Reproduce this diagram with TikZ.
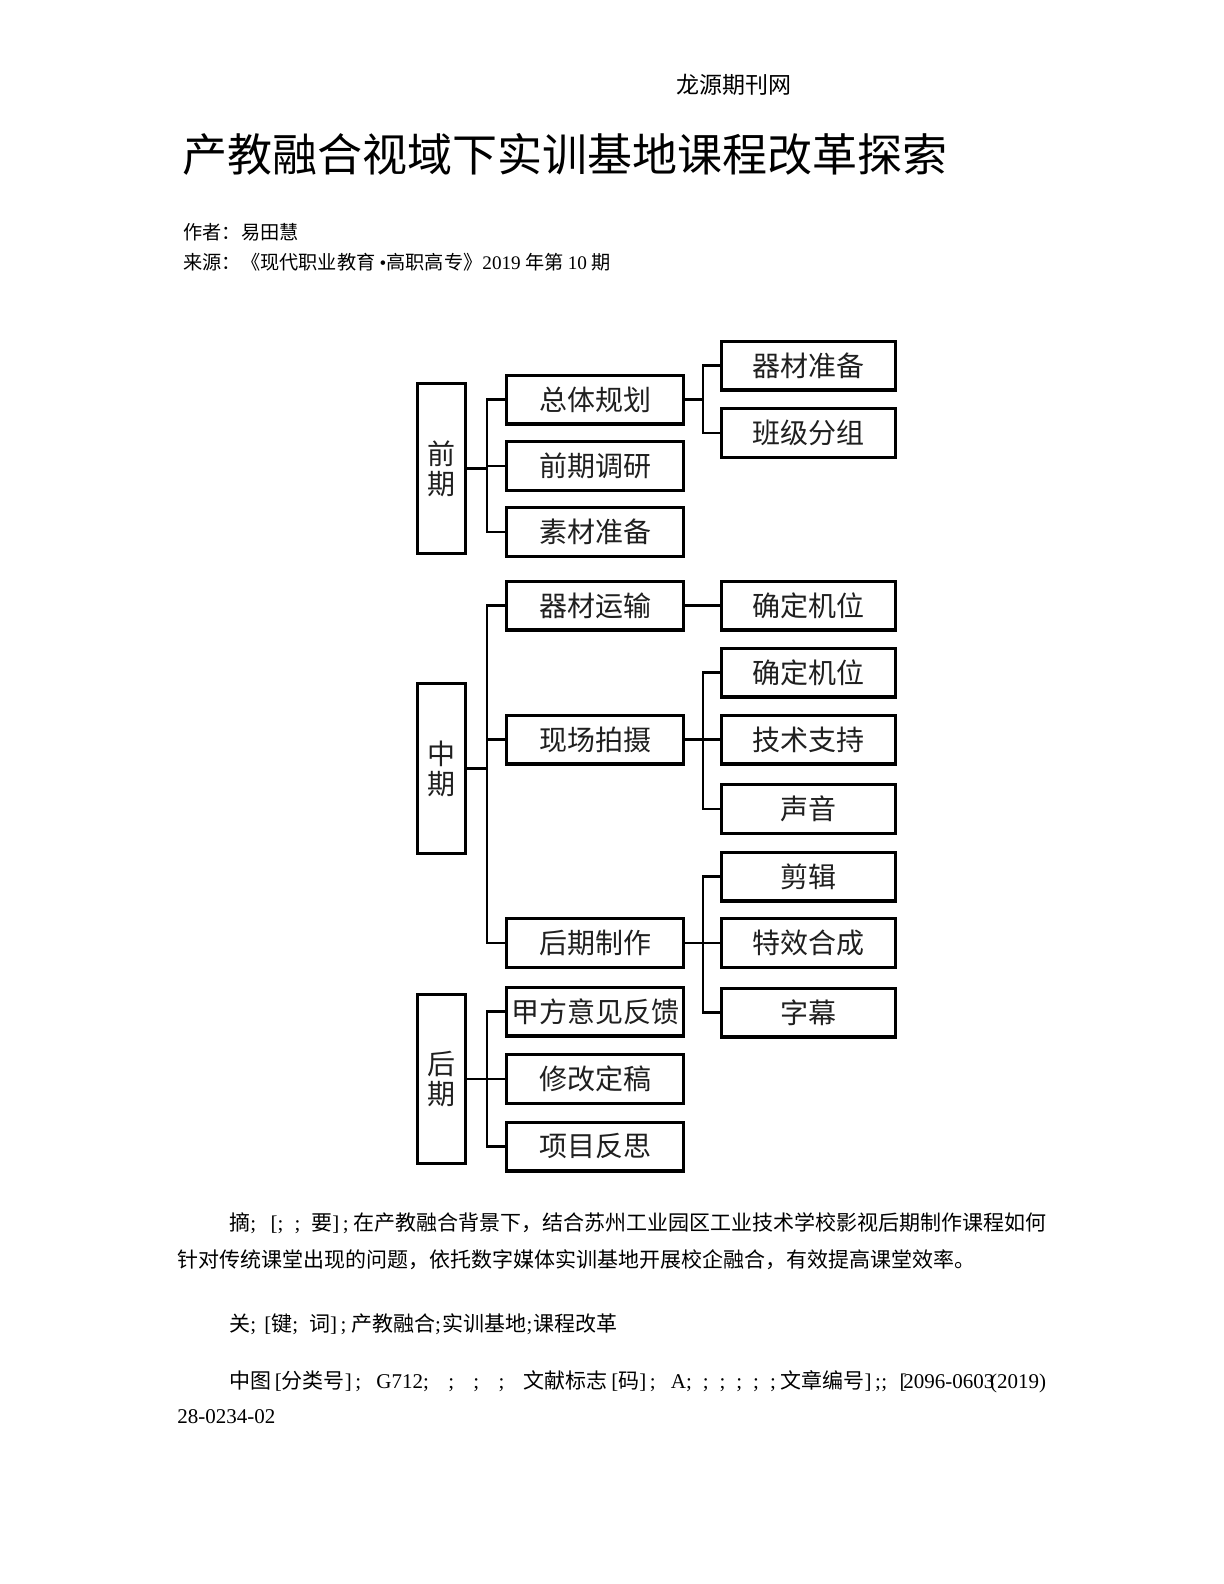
\documentclass[tikz,border=0pt]{standalone}
\usepackage{fontspec}
\setmainfont{Noto Sans CJK SC}
\newfontfamily\lat{Liberation Serif}
\newcommand\hsc[1][0.5em]{\makebox[#1][l]{\lat;}}
\newcommand\hlb{\makebox[0.5em][r]{\lat[}}
\newcommand\hrb{\makebox[0.5em][l]{\lat]}}
\newcommand\hsp[1][0.5em]{\hspace*{#1}}
\begin{document}
\begin{tikzpicture}[x=0.5pt,y=-0.5pt,
  box/.style={draw=black, line width=1.6pt, inner sep=0pt, text=black!88,
    minimum width=88.4pt, minimum height=24.4pt,
    font=\fontsize{14pt}{15pt}\selectfont},
  rbox/.style={box, minimum width=86.8pt},
  tall/.style={box, minimum width=23.8pt, minimum height=84.8pt, align=center},
  conn/.style={draw=black, line width=1.3pt, line join=miter},
  txt/.style={inner sep=0pt, anchor=west, text=black},
  body/.style={txt, font=\fontsize{10.5pt}{12pt}\selectfont}]
\fill[white] (0,0) rectangle (1224,1584);
\path[use as bounding box] (0,0) rectangle (1224,1584);

% header texts
\node[inner sep=0pt, text=black, font=\fontsize{11.5pt}{13pt}\selectfont] (site) at (733.5,85) {龙源期刊网};
\node[txt, font=\fontsize{22.5pt}{26pt}\selectfont] (title) at (182,154) {产教融合视域下实训基地课程改革探索};
\node[txt, font=\fontsize{9.6pt}{12pt}\selectfont] (author) at (183,232) {作者：易田慧};
\node[txt, font=\fontsize{9.6pt}{12pt}\selectfont] (source) at (183,262) {来源：《现代职业教育 {\lat •}高职高专》{\lat 2019} 年第 {\lat 10} 期};

% trunk coordinates
\coordinate (tL) at (487,0);
\coordinate (tR) at (703,0);

% stage boxes
\node[tall] (qq) at (441.5,468.5) {前\\期};
\node[tall] (zm) at (441.5,768.5) {中\\期};
\node[tall] (hq) at (441.5,1079) {后\\期};

% middle column
\node[box] (a1) at (595,399.5) {总体规划};
\node[box] (a2) at (595,466) {前期调研};
\node[box] (a3) at (595,532) {素材准备};
\node[box] (b1) at (595,605.5) {器材运输};
\node[box] (b2) at (595,739.5) {现场拍摄};
\node[box] (b3) at (595,943) {后期制作};
\node[box] (c1) at (595,1011.5) {甲方意见反馈};
\node[box] (c2) at (595,1079) {修改定稿};
\node[box] (c3) at (595,1146.5) {项目反思};

% right column
\node[rbox] (r1) at (808.5,365.5) {器材准备};
\node[rbox] (r2) at (808.5,433) {班级分组};
\node[rbox] (r3) at (808.5,605.5) {确定机位};
\node[rbox] (r4) at (808.5,672.5) {确定机位};
\node[rbox] (r5) at (808.5,739.5) {技术支持};
\node[rbox] (r6) at (808.5,809) {声音};
\node[rbox] (r7) at (808.5,876.5) {剪辑};
\node[rbox] (r8) at (808.5,943) {特效合成};
\node[rbox] (r9) at (808.5,1012.5) {字幕};

% connectors: 前期
\draw[conn] (qq.east) -- (qq.east -| tL);
\draw[conn] (a1.west) -- (a1.west -| tL) -- (a3.west -| tL) -- (a3.west);
\draw[conn] (a2.west) -- (a2.west -| tL);
\draw[conn] (a1.east) -- (a1.east -| tR);
\draw[conn] (r1.west) -- (r1.west -| tR) -- (r2.west -| tR) -- (r2.west);

% connectors: 中期
\draw[conn] (zm.east) -- (zm.east -| tL);
\draw[conn] (b1.west) -- (b1.west -| tL) -- (b3.west -| tL) -- (b3.west);
\draw[conn] (b2.west) -- (b2.west -| tL);
\draw[conn] (b1.east) -- (r3.west);
\draw[conn] (b2.east) -- (b2.east -| tR);
\draw[conn] (r4.west) -- (r4.west -| tR) -- (r6.west -| tR) -- (r6.west);
\draw[conn] (r5.west) -- (r5.west -| tR);
\draw[conn] (b3.east) -- (b3.east -| tR);
\draw[conn] (r7.west) -- (r7.west -| tR) -- (r9.west -| tR) -- (r9.west);
\draw[conn] (r8.west) -- (r8.west -| tR);

% connectors: 后期
\draw[conn] (hq.east) -- (hq.east -| tL);
\draw[conn] (c1.west) -- (c1.west -| tL) -- (c3.west -| tL) -- (c3.west);
\draw[conn] (c2.west) -- (c2.west -| tL);

% body text
\node[body] (abs1) at (229,1223) {摘\hsc\hsp[0.3em]\hlb\hsc\hsp[0.3em]\hsc\hsp[0.3em]要\hrb\hsc 在产教融合背景下，结合苏州工业园区工业技术学校影视后期制作课程如何};
\node[body] (abs2) at (177,1260) {针对传统课堂出现的问题，依托数字媒体实训基地开展校企融合，有效提高课堂效率。};
\node[body] (kw) at (229,1324) {关\hsc\hlb 键\hsc\hsp[0.3em]词\hrb\hsc 产教融合\hsc[0.35em]实训基地\hsc[0.35em]课程改革};
\node[body] (cls1) at (229,1382) {中图\hlb 分类号\hrb\hsc\hsp{\lat G712}\hsc\hsp[0.7em]\hsc\hsp[0.7em]\hsc\hsp[0.7em]\hsc\hsp[0.7em]文献标志\hlb 码\hrb\hsc\hsp{\lat A}\hsc[0.8em]\hsc[0.8em]\hsc[0.8em]\hsc[0.8em]\hsc[0.8em]\hsc 文章编号\hrb\hsc[0.3em]\hsc\hsp[0.2em]\hlb\kern-0.15em{\lat 2096-0603\kern-0.2em(2019)}};
\node[body] (cls2) at (177,1417) {\lat 28-0234-02};
\end{tikzpicture}
\end{document}
